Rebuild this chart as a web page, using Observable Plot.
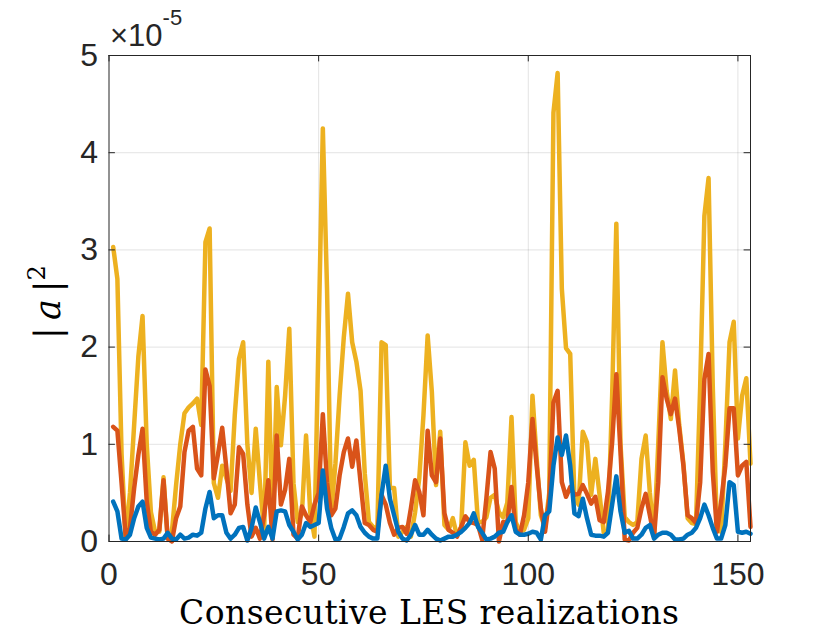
<!DOCTYPE html>
<html><head><meta charset="utf-8">
<script src="https://cdn.jsdelivr.net/npm/d3@7"></script>
<script src="https://cdn.jsdelivr.net/npm/@observablehq/plot@0.6"></script>
<style>html,body{margin:0;padding:0;background:#fff}</style>
</head><body><div id="chart"></div>
<script>
// values in units of 1e-5
const realization = Array.from({length: 153}, (_, k) => k + 1);
const blue = [
 0.41,0.31,0.03,0.02,0.07,0.24,0.36,0.41,0.14,0.04,
 0.03,0.02,0.03,0.09,0.03,0.02,0.07,0.03,0.04,0.07,
 0.06,0.09,0.34,0.51,0.24,0.27,0.27,0.09,0.03,0.07,
 0.14,0.15,0.01,0.14,0.35,0.2,0.03,0.15,0.03,0.31,
 0.32,0.31,0.17,0.1,0.02,0.07,0.19,0.15,0.17,0.19,
 0.73,0.34,0.14,0.02,0.03,0.15,0.29,0.32,0.27,0.15,
 0.09,0.05,0.03,0.03,0.48,0.78,0.44,0.27,0.1,0.03,
 0.01,0.07,0.17,0.07,0.07,0.12,0.07,0.03,0.01,0.03,
 0.05,0.05,0.07,0.1,0.14,0.19,0.29,0.15,0.09,0.02,
 0.03,0.05,0.09,0.1,0.2,0.27,0.1,0.07,0.07,0.08,
 0.1,0.09,0.02,0.27,0.31,0.78,1.07,0.89,1.09,0.78,
 0.29,0.26,0.44,0.24,0.07,0.06,0.06,0.05,0.09,0.38,
 0.67,0.31,0.09,0.11,0.03,0.03,0.07,0.14,0.17,0.03,
 0.07,0.09,0.09,0.07,0.02,0.02,0.03,0.07,0.09,0.14,
 0.24,0.38,0.27,0.14,0.03,0.03,0.17,0.61,0.58,0.1,
 0.09,0.1,0.08];
const orange = [
 1.18,1.14,0.6,0.04,0.14,0.55,0.89,1.16,0.41,0.1,
 0.07,0.12,0.63,0.03,0.0,0.24,0.36,0.92,1.14,1.18,
 0.75,0.68,1.77,1.6,0.65,0.9,1.17,0.75,0.29,0.38,
 0.97,0.9,0.38,0.05,0.14,0.03,0.27,0.63,0.02,1.09,
 0.38,0.53,0.85,0.07,0.03,0.36,0.27,0.2,0.38,0.5,
 1.31,0.61,0.27,0.34,0.68,0.92,1.06,0.77,1.04,0.61,
 0.19,0.17,0.12,0.1,0.48,0.38,0.19,0.07,0.14,0.15,
 0.08,0.34,0.63,0.51,0.27,1.14,0.68,0.61,1.06,0.29,
 0.12,0.09,0.05,0.15,0.26,0.2,0.19,0.17,0.02,0.44,
 0.92,0.75,0.0,0.2,0.2,0.56,0.12,0.07,0.27,0.61,
 1.26,0.78,0.34,0.1,0.44,1.43,1.55,0.61,0.46,0.56,
 0.48,0.49,0.58,0.49,0.39,0.46,0.22,0.2,0.51,1.02,
 1.72,0.92,0.02,0.01,0.09,0.14,0.34,0.49,0.27,0.05,
 0.61,1.69,1.47,1.31,1.47,1.16,0.78,0.27,0.24,0.19,
 0.61,1.67,1.93,0.72,0.1,0.41,0.78,1.37,1.37,0.68,
 0.78,0.82,0.15];
const yellow = [
 3.03,2.70,0.9,0.02,0.5,1.2,1.9,2.32,1.0,0.3,
 0.1,0.1,0.66,0.03,0.1,0.58,1.0,1.32,1.38,1.42,
 1.47,1.2,3.08,3.22,0.6,0.45,0.78,0.65,0.52,1.3,
 1.88,2.05,1.0,0.5,1.16,0.6,0.1,1.85,0.15,1.59,
 0.99,1.5,2.19,0.6,0.2,0.28,1.09,0.3,0.05,2.15,
 4.25,2.6,0.3,0.8,1.5,2.1,2.55,2.05,1.85,1.55,
 0.7,0.2,0.15,0.12,2.05,2.02,0.55,0.55,0.05,0.1,
 0.15,0.05,0.3,0.65,1.3,2.12,1.54,0.58,1.13,0.17,
 0.12,0.24,0.06,0.15,1.02,0.78,0.84,0.2,0.2,0.25,
 0.45,0.48,0.3,0.25,0.4,1.28,0.2,0.1,0.12,0.24,
 1.5,0.85,0.27,0.14,0.5,4.41,4.82,2.6,1.99,1.93,
 0.45,0.38,1.13,1.02,0.48,0.85,0.48,0.09,0.12,1.5,
 3.27,1.0,0.25,0.2,0.17,0.2,0.85,1.09,0.5,0.05,
 1.0,2.05,1.55,1.26,1.76,1.2,0.8,0.24,0.19,0.18,
 1.6,3.35,3.74,1.6,0.12,0.1,1.0,2.05,2.26,1.06,
 1.5,1.68,0.8];
const xTicks = [0, 50, 100, 150];
const yTicks = [0, 1, 2, 3, 4, 5];
const xDomain = [0, 153];
const yDomain = [0, 5];
const exponentLabel = "-5";
const xLabel = "Consecutive LES realizations";

const colors = {blue: "#0072BD", orange: "#D95319", yellow: "#EDB120"};
const rows = (vals) => realization.map((r, k) => ({x: r, v: vals[k]}));

const W = 830, H = 638, mL = 108.5, mR = 80, mT = 55, mB = 97;
const tickPx = 6.4;
const tickLenY = (yDomain[1] - yDomain[0]) * tickPx / (H - mT - mB);
const tickLenX = (xDomain[1] - xDomain[0]) * tickPx / (W - mL - mR);
const axisColor = "#262626";
const lw = 4.5;
const tickFont = 32;

const chart = Plot.plot({
  width: W, height: H,
  marginLeft: mL, marginRight: mR, marginTop: mT, marginBottom: mB,
  style: {fontFamily: "'Liberation Sans', Arial, Helvetica, sans-serif", fontSize: tickFont + "px", color: axisColor, background: "#fff", overflow: "visible"},
  x: {domain: xDomain},
  y: {domain: yDomain},
  marks: [
    Plot.gridX(xTicks.slice(1), {stroke: axisColor, strokeOpacity: 0.13, strokeWidth: 1}),
    Plot.gridY(yTicks.slice(1, -1), {stroke: axisColor, strokeOpacity: 0.13, strokeWidth: 1}),
    Plot.line(rows(yellow), {x: "x", y: "v", stroke: colors.yellow, strokeWidth: lw, strokeLinejoin: "round"}),
    Plot.line(rows(orange), {x: "x", y: "v", stroke: colors.orange, strokeWidth: lw, strokeLinejoin: "round"}),
    Plot.line(rows(blue), {x: "x", y: "v", stroke: colors.blue, strokeWidth: lw, strokeLinejoin: "round"}),
    Plot.ruleX(xTicks, {y1: yDomain[0], y2: yDomain[0] + tickLenY, stroke: axisColor, strokeWidth: 1}),
    Plot.ruleX(xTicks, {y1: yDomain[1], y2: yDomain[1] - tickLenY, stroke: axisColor, strokeWidth: 1}),
    Plot.ruleY(yTicks, {x1: xDomain[0], x2: xDomain[0] + tickLenX, stroke: axisColor, strokeWidth: 1}),
    Plot.ruleY(yTicks, {x1: xDomain[1], x2: xDomain[1] - tickLenX, stroke: axisColor, strokeWidth: 1}),
    Plot.frame({stroke: axisColor, strokeWidth: 1}),
    Plot.axisX({ticks: xTicks, tickSize: 0, tickPadding: 21, label: null, fontSize: tickFont, tickFormat: d => String(d)}),
    Plot.axisY({ticks: yTicks, tickSize: 0, tickPadding: 11, label: null, fontSize: tickFont, tickFormat: d => String(d)})
  ]
});

const svg = d3.select(chart);
// exponent
const ex = svg.append("text")
  .attr("x", 110).attr("y", 46)
  .attr("text-anchor", "start")
  .attr("fill", axisColor)
  .style("font-family", "'Liberation Sans', Arial, sans-serif")
  .style("font-size", "31px");
ex.append("tspan").text("\u00d710");
ex.append("tspan").attr("dy", -21).style("font-size", "22px").text(exponentLabel);

// y label |a|^2
const yl = svg.append("text")
  .attr("transform", "translate(60,302) rotate(-90)")
  .attr("text-anchor", "middle")
  .attr("fill", "#000")
  .style("font-family", "'DejaVu Serif', 'Liberation Serif', serif")
  .style("font-size", "35px");
yl.append("tspan").text("|\u2009");
yl.append("tspan").style("font-style", "italic").text("a");
yl.append("tspan").text("\u2009|");
yl.append("tspan").attr("dy", -15).style("font-size", "24px").text("2");

// x label
svg.append("text")
  .attr("x", (mL + W - mR) / 2).attr("y", 624)
  .attr("text-anchor", "middle")
  .attr("fill", "#000")
  .style("font-family", "'DejaVu Serif', 'Liberation Serif', serif")
  .style("font-size", "33px")
  .style("letter-spacing", "0.4px")
  .text(xLabel);

document.getElementById("chart").appendChild(chart);
</script>
</body></html>
